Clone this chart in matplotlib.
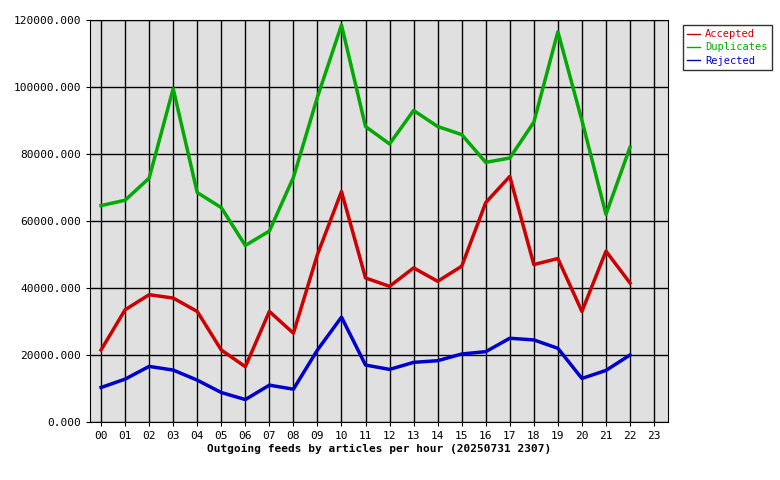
import matplotlib
matplotlib.use("Agg")
import matplotlib.pyplot as plt

hours = [f"{h:02d}" for h in range(24)]
accepted = [21500,33500,38000,37000,33000,21500,16500,33000,26500,50000,68800,43000,40500,46000,42000,46500,65500,73300,47000,48800,33000,51000,41500]
duplicates = [64600,66200,72800,99500,68500,64000,52700,57000,73000,97000,118500,88200,83000,93000,88200,85800,77500,78800,89500,116500,90000,62000,82000]
rejected = [10300,12800,16600,15500,12500,8800,6700,11000,9800,21500,31300,17000,15700,17800,18300,20300,21000,25000,24500,22000,13000,15400,20000]
yticks = [0,20000,40000,60000,80000,100000,120000]

plt.rcParams['font.family'] = 'DejaVu Sans Mono'
fig = plt.figure(figsize=(7.8,4.8), dpi=100)
ax = fig.add_axes([90/780, 1-422/480, 578/780, 402/480])
ax.set_facecolor('#e0e0e0')
x = list(range(len(accepted)))
ax.plot(x, accepted, color='#cc0000', lw=2.5, label='Accepted')
ax.plot(x, duplicates, color='#00aa00', lw=2.5, label='Duplicates')
ax.plot(x, rejected, color='#0000cc', lw=2.5, label='Rejected')
ax.set_xlim(-0.46, 23.58)
ax.set_ylim(0, 120000)
ax.set_xticks(range(24))
ax.set_xticklabels(hours, fontsize=8)
ax.set_yticks(yticks)
ax.set_yticklabels([f"{v}.000" for v in yticks], fontsize=8)
ax.grid(True, color='black', lw=1)
ax.set_axisbelow(True)
ax.tick_params(length=3)
ax.set_xlabel('Outgoing feeds by articles per hour (20250731 2307)', fontsize=8, fontweight='bold', labelpad=2)
leg = fig.legend(loc='upper left', bbox_to_anchor=(678/780, 1-20/480), fontsize=7.5,
                 frameon=True, fancybox=False, edgecolor='black', handlelength=1.2,
                 borderpad=0.4, labelspacing=0.3, handletextpad=0.5)
for line, t in zip(leg.get_lines(), leg.get_texts()):
    line.set_linewidth(1)
    t.set_color(line.get_color())
fig.savefig('out.png', dpi=100)
